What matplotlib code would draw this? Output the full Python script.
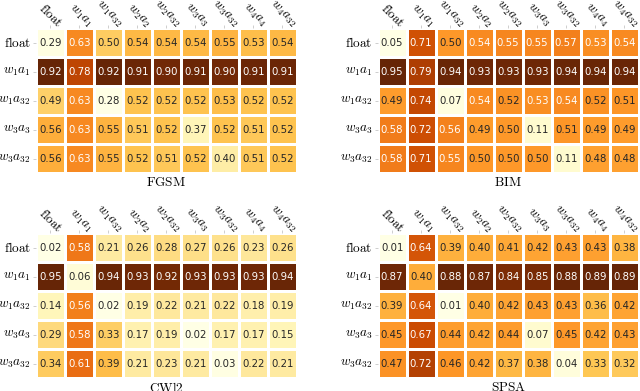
import matplotlib
matplotlib.use("Agg")
import matplotlib.pyplot as plt
import matplotlib.transforms as mtransforms
import numpy as np
import seaborn as sns

plt.rcParams["mathtext.fontset"] = "cm"

row_labels = [r"$\mathrm{float}$", r"$w_1a_1$", r"$w_1a_{32}$", r"$w_3a_3$", r"$w_3a_{32}$"]
col_labels = [r"$\mathrm{float}$", r"$w_1a_1$", r"$w_1a_{32}$", r"$w_2a_2$", r"$w_2a_{32}$",
              r"$w_3a_3$", r"$w_3a_{32}$", r"$w_4a_4$", r"$w_4a_{32}$"]

fgsm = [
    [0.29, 0.63, 0.50, 0.54, 0.54, 0.54, 0.55, 0.53, 0.54],
    [0.92, 0.78, 0.92, 0.91, 0.90, 0.91, 0.90, 0.91, 0.91],
    [0.49, 0.63, 0.28, 0.52, 0.52, 0.52, 0.53, 0.52, 0.52],
    [0.56, 0.63, 0.55, 0.51, 0.52, 0.37, 0.52, 0.51, 0.52],
    [0.56, 0.63, 0.55, 0.52, 0.51, 0.52, 0.40, 0.51, 0.52],
]
bim = [
    [0.05, 0.71, 0.50, 0.54, 0.55, 0.55, 0.57, 0.53, 0.54],
    [0.95, 0.79, 0.94, 0.93, 0.93, 0.93, 0.94, 0.94, 0.94],
    [0.49, 0.74, 0.07, 0.54, 0.52, 0.53, 0.54, 0.52, 0.51],
    [0.58, 0.72, 0.56, 0.49, 0.50, 0.11, 0.51, 0.49, 0.49],
    [0.58, 0.71, 0.55, 0.50, 0.50, 0.50, 0.11, 0.48, 0.48],
]
cwl2 = [
    [0.02, 0.58, 0.21, 0.26, 0.28, 0.27, 0.26, 0.23, 0.26],
    [0.95, 0.06, 0.94, 0.93, 0.92, 0.93, 0.93, 0.93, 0.94],
    [0.14, 0.56, 0.02, 0.19, 0.22, 0.21, 0.22, 0.18, 0.19],
    [0.29, 0.58, 0.33, 0.17, 0.19, 0.02, 0.17, 0.17, 0.15],
    [0.34, 0.61, 0.39, 0.21, 0.23, 0.21, 0.03, 0.22, 0.21],
]
spsa = [
    [0.01, 0.64, 0.39, 0.40, 0.41, 0.42, 0.43, 0.43, 0.38],
    [0.87, 0.40, 0.88, 0.87, 0.84, 0.85, 0.88, 0.89, 0.89],
    [0.39, 0.64, 0.01, 0.40, 0.42, 0.43, 0.43, 0.36, 0.42],
    [0.45, 0.67, 0.44, 0.42, 0.44, 0.07, 0.45, 0.42, 0.43],
    [0.47, 0.72, 0.46, 0.42, 0.37, 0.38, 0.04, 0.33, 0.32],
]

panels = [("FGSM", fgsm), ("BIM", bim), ("CWl2", cwl2), ("SPSA", spsa)]
# axes boxes in figure fractions: left, bottom, width, height
boxes = [
    (0.056, 0.557, 0.408, 0.371),
    (0.590, 0.557, 0.408, 0.371),
    (0.056, 0.033, 0.408, 0.371),
    (0.590, 0.033, 0.408, 0.371),
]

fig = plt.figure(figsize=(6.4, 3.91), dpi=100)
# rotated mathtext labels carry empty descent space, nudge them down to the ticks
shift_down = mtransforms.ScaledTranslation(0.01, -0.05, fig.dpi_scale_trans)

for (name, data), box in zip(panels, boxes):
    ax = fig.add_axes(box)
    sns.heatmap(np.array(data), ax=ax, cmap="YlOrBr", annot=True, fmt=".2f",
                annot_kws={"size": 7.3}, linewidths=1, linecolor="white",
                cbar=False, xticklabels=col_labels, yticklabels=row_labels)
    ax.xaxis.tick_top()
    ax.set_xticklabels(col_labels, rotation=-45, ha="center", fontsize=9.5)
    ax.set_yticklabels(row_labels, rotation=0, fontsize=9.5)
    ax.tick_params(length=2, width=0.5, color="#bbbbbb", pad=1.5)
    ax.tick_params(axis="x", pad=0)
    for lbl in ax.get_xticklabels():
        lbl.set_transform(lbl.get_transform() + shift_down)
    ax.set_xlabel(r"$\mathrm{" + name + "}$", fontsize=9.5, labelpad=2)

fig.savefig("out.png", dpi=100)
